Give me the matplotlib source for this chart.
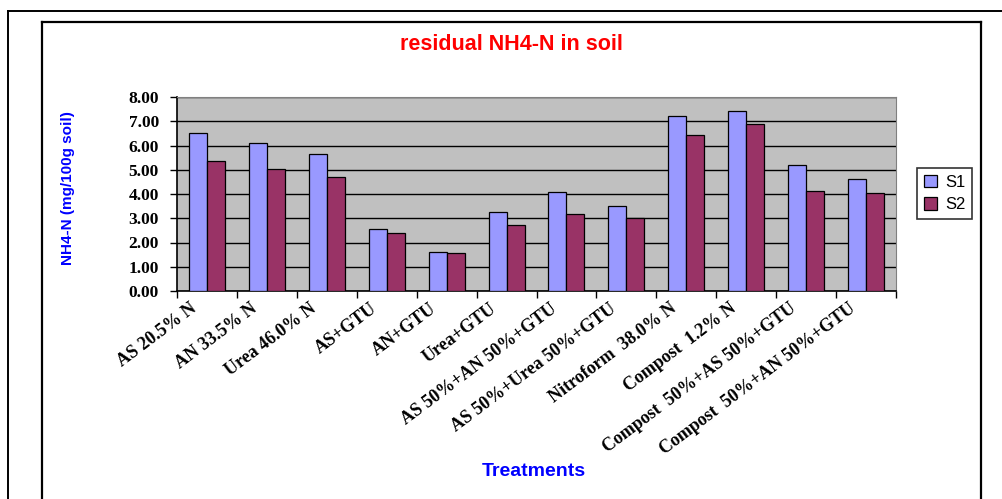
import numpy as np
import matplotlib
matplotlib.use("Agg")
import matplotlib.pyplot as plt
import matplotlib.transforms as mtrans
from matplotlib.lines import Line2D

# residual NH4-N (mg/100g soil) for each treatment, two sampling times
treatments = [
    "AS 20.5% N", "AN 33.5% N", "Urea 46.0% N", "AS+GTU", "AN+GTU",
    "Urea+GTU", "AS 50%+AN 50%+GTU", "AS 50%+Urea 50%+GTU",
    "Nitroform  38.0% N", "Compost  1.2% N", "Compost  50%+AS 50%+GTU",
    "Compost  50%+AN 50%+GTU",
]
s1 = [6.50, 6.10, 5.64, 2.55, 1.60, 3.25, 4.08, 3.51, 7.22, 7.44, 5.18, 4.63]
s2 = [5.37, 5.03, 4.69, 2.40, 1.55, 2.72, 3.17, 3.00, 6.43, 6.87, 4.12, 4.05]
yticks = [0, 1, 2, 3, 4, 5, 6, 7, 8]

W, H = 1003, 499
fig = plt.figure(figsize=(W / 100, H / 100), dpi=100)
fig.patch.set_facecolor("white")

# outer and inner frames (figure pixel coords, y from top)
def fline(xs, ys, lw):
    fig.add_artist(Line2D([x / W for x in xs], [1 - y / H for y in ys],
                          color="black", lw=lw, transform=fig.transFigure,
                          solid_capstyle="projecting"))

fline([8, 1003], [11, 11], 1.4)
fline([8, 8], [11, 499], 1.4)
fline([42, 981], [22, 22], 1.6)
fline([42, 42], [22, 499], 1.6)
fline([981, 981], [22, 499], 1.6)

ax = fig.add_axes([177 / W, 1 - 291 / H, 719 / W, 194 / H])
ax.set_facecolor("#C0C0C0")

x = np.arange(len(treatments))
bw = 0.3
ax.bar(x + 0.5 - bw / 2, s1, bw, color="#9999FF", edgecolor="black", lw=0.9,
       label="S1", zorder=3)
ax.bar(x + 0.5 + bw / 2, s2, bw, color="#993366", edgecolor="black", lw=0.9,
       label="S2", zorder=3)

ax.set_xlim(0, len(treatments))
ax.set_ylim(0, 8)
ax.set_yticks(yticks)
ax.set_yticklabels(["%.2f" % v for v in yticks],
                   fontfamily="Liberation Serif", fontweight="bold", fontsize=12.5)
ax.yaxis.grid(True, color="black", lw=1, zorder=1)
ax.set_axisbelow(True)
ax.tick_params(axis="y", direction="out", length=5, width=1, pad=8)

ax.set_xticks(np.arange(len(treatments) + 1))
ax.set_xticklabels([])
ax.tick_params(axis="x", direction="out", length=5, width=1)

for sp in ("top", "right"):
    ax.spines[sp].set_color("#808080")
for sp in ("left", "bottom"):
    ax.spines[sp].set_color("black")
    ax.spines[sp].set_linewidth(1.2)

# slanted category labels hanging below each group
off = mtrans.ScaledTranslation(-12 / 100, -16 / 100, fig.dpi_scale_trans)
for i, lab in enumerate(treatments):
    ax.text(i + 0.5, 0, lab, transform=ax.get_xaxis_transform() + off,
            rotation=37, rotation_mode="anchor", ha="right", va="center",
            fontfamily="Liberation Serif", fontweight="bold", fontsize=13)

fig.text(511 / W, 1 - 45 / H, "residual NH4-N in soil", color="#FF0000",
         fontfamily="Liberation Sans", fontweight="bold", fontsize=15.5,
         ha="center", va="center")
fig.text(534 / W, 1 - 472 / H, "Treatments", color="#0000FF",
         fontfamily="Liberation Sans", fontweight="bold", fontsize=14,
         ha="center", va="center")
fig.text(68 / W, 1 - 188 / H, "NH4-N (mg/100g soil)", color="#0000FF",
         fontfamily="Liberation Sans", fontweight="bold", fontsize=11,
         rotation=90, ha="center", va="center")

leg = ax.legend(loc="center left", bbox_to_anchor=(917 / W, 1 - 193.5 / H),
                bbox_transform=fig.transFigure, frameon=True, fancybox=False,
                handlelength=0.8, handleheight=0.8, handletextpad=0.5,
                borderpad=0.4, labelspacing=0.45, borderaxespad=0,
                prop={"family": "Liberation Sans", "size": 12})
leg.get_frame().set_edgecolor("black")
leg.get_frame().set_linewidth(1.2)

fig.savefig("out.png", dpi=100)
